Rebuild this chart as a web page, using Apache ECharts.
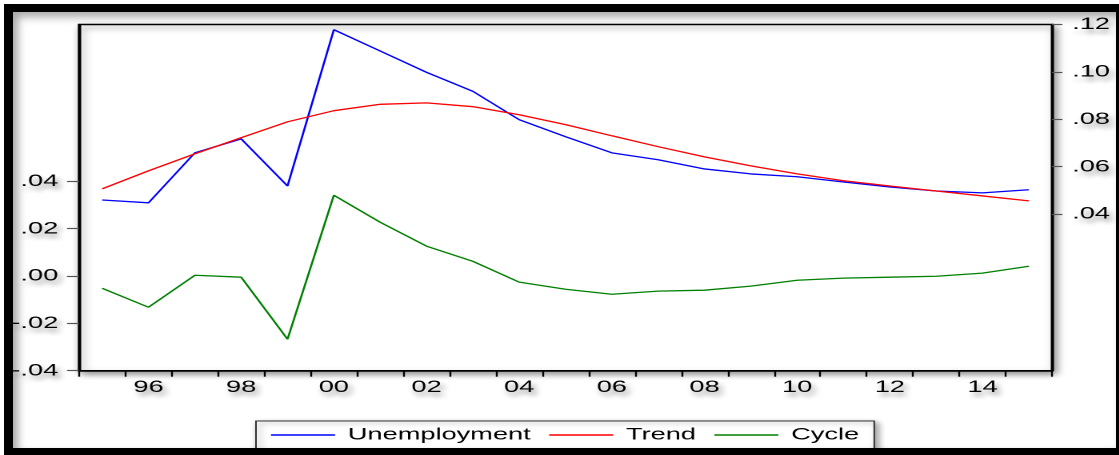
<!DOCTYPE html>
<html>
<head>
<meta charset="utf-8">
<script src="https://cdn.jsdelivr.net/npm/echarts@6/dist/echarts.min.js"></script>
<style>
html, body { margin: 0; padding: 0; background: #fff; }
#wrap { position: relative; width: 1119px; height: 455px; overflow: hidden; background: #fff; }
#chart { position: absolute; left: 0; top: 0; width: 700px; height: 455px; transform: scaleX(1.6); transform-origin: 0 0; }
#frame { position: absolute; left: 4px; top: 4px; right: 0; bottom: 0; border-style: solid; border-color: #000;
  border-width: 8px 3px 7px 9px; box-shadow: inset 5px 5px 8px rgba(0,0,0,0.35); pointer-events: none; z-index: 5; }
</style>
</head>
<body>
<div id="wrap">
  <div id="chart"></div>
  <div id="frame"></div>
</div>
<script>
// ---- data ----
const years = ['1995','1996','1997','1998','1999','2000','2001','2002','2003','2004','2005',
               '2006','2007','2008','2009','2010','2011','2012','2013','2014','2015'];
const unemployment = [0.0459,0.0447,0.0658,0.0717,0.0518,0.1178,0.1088,0.0998,0.0918,0.0798,0.0726,
                      0.0658,0.0629,0.0590,0.0569,0.0557,0.0535,0.0514,0.0497,0.0489,0.0502];
const trend = [0.0506,0.0582,0.0654,0.0722,0.0789,0.0836,0.0863,0.0869,0.0853,0.0819,0.0777,
               0.0730,0.0684,0.0641,0.0603,0.0569,0.0540,0.0518,0.0497,0.0476,0.0455];
const cycle = [-0.0052,-0.0132,0.0003,-0.0005,-0.0267,0.0341,0.0227,0.0126,0.0062,-0.0026,-0.0056,
               -0.0077,-0.0064,-0.0060,-0.0043,-0.0018,-0.0009,-0.0005,-0.0001,0.0012,0.0041];
const leftTicks = [-0.04,-0.02,0.00,0.02,0.04];
const rightTicks = [0.04,0.06,0.08,0.10,0.12];
const seriesNames = ['Unemployment','Trend','Cycle'];

// ---- chart ----
const FONT = "'Liberation Sans', Arial, sans-serif";
const shadowText = {
  color: '#000', fontSize: 17, fontFamily: FONT,
  textShadowColor: 'rgba(0,0,0,0.45)', textShadowBlur: 5, textShadowOffsetX: 2, textShadowOffsetY: 4
};
function fmt(v) {
  const s = Math.abs(v).toFixed(2).replace(/^0/, '');
  return (v < -1e-9 ? '-' : '') + s;
}
const chart = echarts.init(document.getElementById('chart'), null, { renderer: 'canvas', devicePixelRatio: 2 });
chart.setOption({
  animation: false,
  grid: {
    left: 49.4, top: 24.5, width: 608.1, height: 346.2,
    show: true, backgroundColor: '#fff', borderColor: '#000', borderWidth: 1.5,
    shadowColor: 'rgba(0,0,0,0.45)', shadowBlur: 6, shadowOffsetX: 2, shadowOffsetY: 3
  },
  legend: {
    data: seriesNames,
    left: 160, top: 421,
    orient: 'horizontal',
    icon: 'rect',
    padding: [5.5, 9.4, 9, 9.4],
    itemWidth: 40, itemHeight: 1.6, itemGap: 11.5,
    backgroundColor: '#fff', borderColor: '#333', borderWidth: 1,
    shadowColor: 'rgba(0,0,0,0.4)', shadowBlur: 5, shadowOffsetX: 2, shadowOffsetY: 2,
    textStyle: { color: '#000', fontSize: 17, fontFamily: FONT, padding: [0, 0, 0, 3] },
    selectedMode: false
  },
  xAxis: {
    type: 'category',
    data: years,
    boundaryGap: true,
    axisLine: { show: true, onZero: false, lineStyle: { color: '#000', width: 1.5 } },
    axisTick: { show: true, interval: 0, length: 6, lineStyle: { color: '#000', width: 1.2 } },
    axisLabel: Object.assign({
      interval: function (idx) { return idx % 2 === 1; },
      margin: 8,
      formatter: function (v) { return v.slice(-2); }
    }, shadowText),
    splitLine: { show: false }
  },
  yAxis: [
    {
      type: 'value', position: 'left',
      min: -0.04, max: 0.1062,
      axisLine: { show: true, lineStyle: { color: '#000', width: 1.5 } },
      axisTick: { show: true, length: 7.5, customValues: leftTicks, lineStyle: { color: '#555', width: 1.2 } },
      axisLabel: Object.assign({ customValues: leftTicks, margin: 13, formatter: fmt }, shadowText),
      splitLine: { show: false }
    },
    {
      type: 'value', position: 'right',
      min: -0.0262, max: 0.12,
      axisLine: { show: true, lineStyle: { color: '#000', width: 1.5 } },
      axisTick: { show: true, length: 6.5, customValues: rightTicks, lineStyle: { color: '#555', width: 1.2 } },
      axisLabel: Object.assign({ customValues: rightTicks, margin: 12.6, formatter: fmt }, shadowText),
      splitLine: { show: false }
    }
  ],
  series: [
    { name: seriesNames[0], type: 'line', yAxisIndex: 1, data: unemployment, symbol: 'none',
      lineStyle: { color: '#0000ff', width: 1.3 }, itemStyle: { color: '#0000ff' } },
    { name: seriesNames[1], type: 'line', yAxisIndex: 1, data: trend, symbol: 'none',
      lineStyle: { color: '#ff0000', width: 1.3 }, itemStyle: { color: '#ff0000' } },
    { name: seriesNames[2], type: 'line', yAxisIndex: 0, data: cycle, symbol: 'none',
      lineStyle: { color: '#008000', width: 1.3 }, itemStyle: { color: '#008000' } }
  ]
});
</script>
</body>
</html>
